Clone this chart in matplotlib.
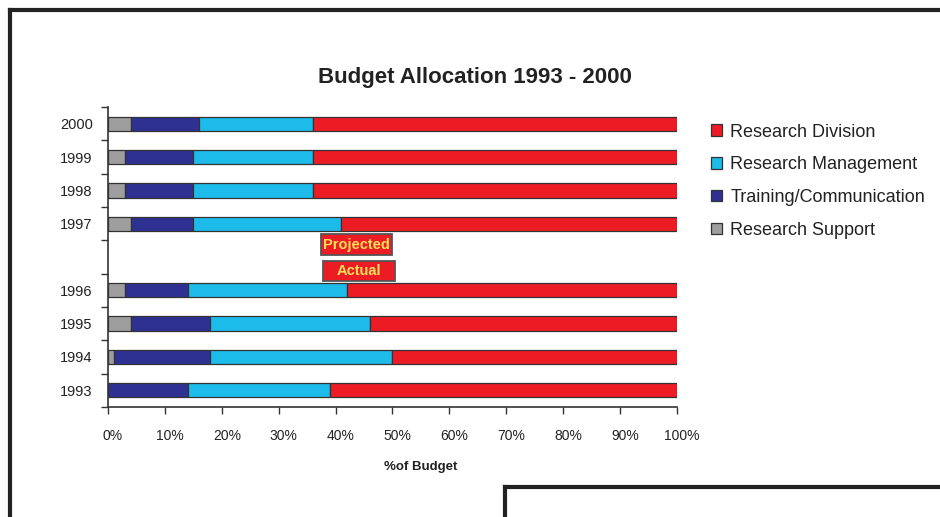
import matplotlib
matplotlib.use("Agg")
import matplotlib.pyplot as plt
import matplotlib.transforms as mtransforms
from matplotlib.patches import Patch, Rectangle
from matplotlib.lines import Line2D
from matplotlib.ticker import FixedLocator, FuncFormatter

plt.rcParams['font.family'] = ['Liberation Sans', 'DejaVu Sans']

# Budget shares (% of total) per year
years = ['1993', '1994', '1995', '1996', '1997', '1998', '1999', '2000']
research_support = [0, 1, 4, 3, 4, 3, 3, 4]
training_communication = [14, 17, 14, 11, 11, 12, 12, 12]
research_management = [25, 32, 28, 28, 26, 21, 21, 20]
research_division = [61, 50, 54, 58, 59, 64, 64, 64]

series_names = ['Research Support', 'Training/Communication',
                'Research Management', 'Research Division']
series_values = [research_support, training_communication,
                 research_management, research_division]
series_colors = ['#9E9E9E', '#2E3192', '#1CBBE9', '#ED1C24']

first_projected_year = 1997
x_ticks = [0, 10, 20, 30, 40, 50, 60, 70, 80, 90, 100]

fig = plt.figure(figsize=(9.4, 5.17), dpi=100)
ax = fig.add_axes([0.1149, 0.2128, 0.6053, 0.5802])

# one empty row separates actual years from projected ones
positions = [i + (1 if int(y) >= first_projected_year else 0) for i, y in enumerate(years)]

left = [0] * len(years)
for name, vals, col in zip(series_names, series_values, series_colors):
    ax.barh(positions, vals, left=left, height=0.43, color=col,
            edgecolor='#333333', linewidth=0.9, label=name)
    left = [a + b for a, b in zip(left, vals)]

n_rows = len(years) + 1
ax.set_ylim(-0.5, n_rows - 0.5)
ax.set_xlim(0, 100)

ax.set_yticks(positions)
ax.set_yticklabels(years, fontsize=10.5, color='#222222')
ax.yaxis.set_minor_locator(FixedLocator([p - 0.5 for p in range(n_rows + 1)]))
ax.tick_params(axis='y', which='major', length=0, pad=11)
ax.tick_params(axis='y', which='minor', length=5, width=1, color='#333333', direction='out')

ax.set_xticks(x_ticks)
ax.xaxis.set_major_formatter(FuncFormatter(lambda v, p: f"{int(v)}%"))
ax.tick_params(axis='x', length=5, width=1, color='#333333', direction='out',
               pad=11, labelsize=10, labelcolor='#222222')
offset = mtransforms.ScaledTranslation(5 / 100, 0, fig.dpi_scale_trans)
for lbl in ax.get_xticklabels():
    lbl.set_transform(lbl.get_transform() + offset)

for side in ('top', 'right'):
    ax.spines[side].set_visible(False)
for side in ('left', 'bottom'):
    ax.spines[side].set_color('#333333')
    ax.spines[side].set_linewidth(1.2)

# Projected / Actual markers in the gap row
gap_row = positions[years.index(str(first_projected_year))] - 1
for label, yc, x0, x1 in [('Projected', gap_row + 0.375, 37.4, 50.0),
                          ('Actual', gap_row - 0.42, 37.7, 50.5)]:
    ax.add_patch(Rectangle((x0, yc - 0.31), x1 - x0, 0.62, facecolor='#ED1C24',
                           edgecolor='#555555', linewidth=1.3, zorder=5, clip_on=False))
    ax.text((x0 + x1) / 2, yc, label, ha='center', va='center', fontsize=10.5,
            fontweight='bold', color='#F7E15A', zorder=6)

fig.text(0.505, 0.851, 'Budget Allocation 1993 - 2000', ha='center', va='center',
         fontsize=16, fontweight='bold', color='#222222')
fig.text(0.448, 0.0967, '%of Budget', ha='center', va='center',
         fontsize=9.5, fontweight='bold', color='#222222')

handles = [Patch(facecolor=c, edgecolor='#333333', linewidth=0.9)
           for c in series_colors[::-1]]
fig.legend(handles, series_names[::-1], loc='upper left',
           bbox_to_anchor=(0.749, 0.775), frameon=False, fontsize=13,
           handlelength=0.6, handleheight=0.6, handletextpad=0.45,
           labelspacing=0.87, borderaxespad=0, labelcolor='#222222')

# page frame and inset box outline
frame_kw = dict(color='#222222', linewidth=3, transform=fig.transFigure, solid_capstyle='projecting')
fig.add_artist(Line2D([9.5 / 940, 9.5 / 940], [0, 1 - 9.5 / 517], **frame_kw))
fig.add_artist(Line2D([9.5 / 940, 1], [1 - 9.5 / 517, 1 - 9.5 / 517], **frame_kw))
fig.add_artist(Line2D([504.5 / 940, 504.5 / 940], [0, 1 - 486.5 / 517], **frame_kw))
fig.add_artist(Line2D([504.5 / 940, 1], [1 - 486.5 / 517, 1 - 486.5 / 517], **frame_kw))

fig.savefig('out.png', dpi=100, facecolor='white')
